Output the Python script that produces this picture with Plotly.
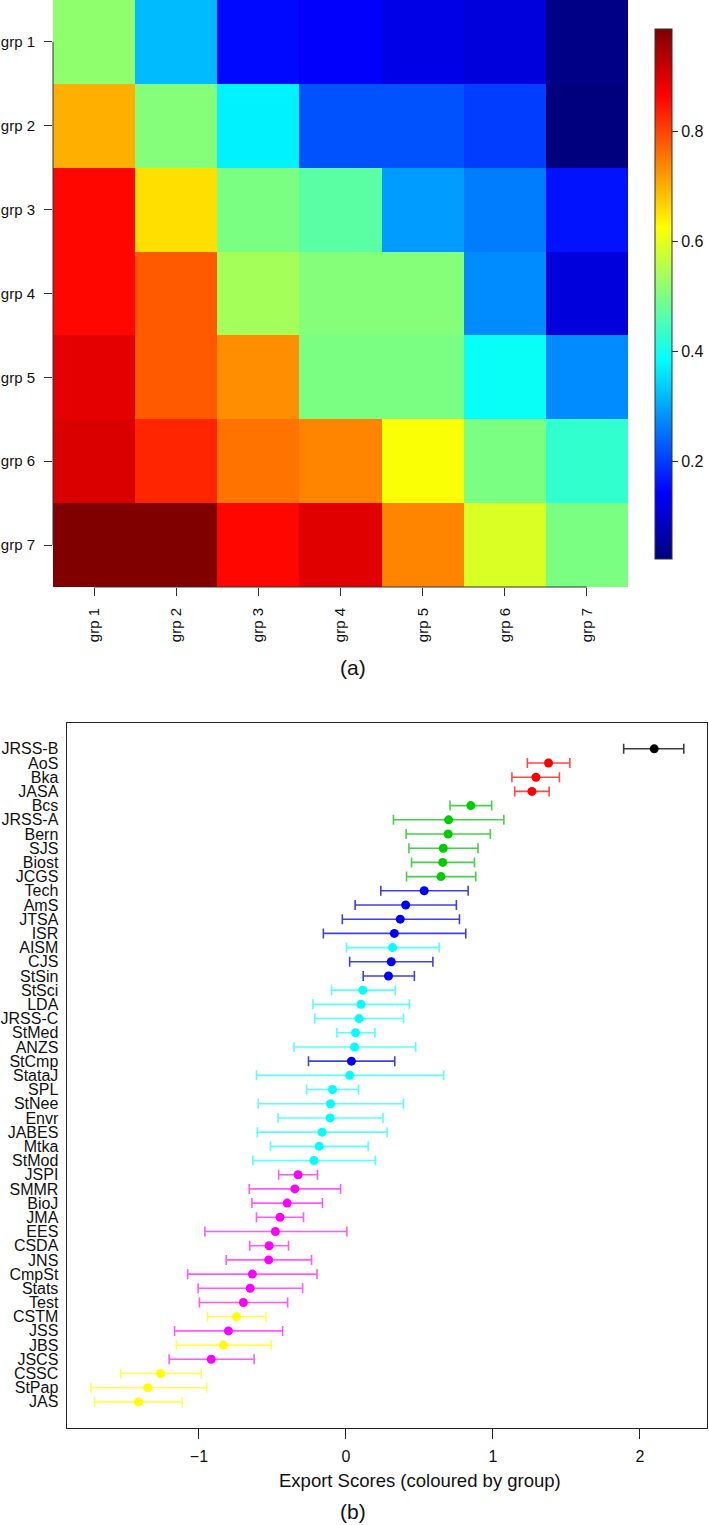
import plotly.graph_objects as go

# ---------------- (a) heatmap data ----------------
groups = ["grp 1", "grp 2", "grp 3", "grp 4", "grp 5", "grp 6", "grp 7"]
row_grp1 = [0.52, 0.32, 0.15, 0.14, 0.12, 0.11, 0.03]
row_grp2 = [0.70, 0.51, 0.37, 0.22, 0.22, 0.20, 0.02]
row_grp3 = [0.86, 0.655, 0.50, 0.47, 0.29, 0.26, 0.16]
row_grp4 = [0.86, 0.78, 0.54, 0.51, 0.51, 0.275, 0.11]
row_grp5 = [0.89, 0.78, 0.73, 0.50, 0.50, 0.39, 0.275]
row_grp6 = [0.90, 0.83, 0.755, 0.74, 0.62, 0.50, 0.43]
row_grp7 = [0.985, 0.985, 0.86, 0.895, 0.74, 0.59, 0.50]
cbar_ticks = [0.2, 0.4, 0.6, 0.8]

# ---------------- (b) export scores data ----------------
journals = ["JRSS-B", "AoS", "Bka", "JASA", "Bcs", "JRSS-A", "Bern", "SJS", "Biost", "JCGS",
            "Tech", "AmS", "JTSA", "ISR", "AISM", "CJS", "StSin", "StSci", "LDA", "JRSS-C",
            "StMed", "ANZS", "StCmp", "StataJ", "SPL", "StNee", "Envr", "JABES", "Mtka", "StMod",
            "JSPI", "SMMR", "BioJ", "JMA", "EES", "CSDA", "JNS", "CmpSt", "Stats", "Test",
            "CSTM", "JSS", "JBS", "JSCS", "CSSC", "StPap", "JAS"]
scores = [2.097, 1.378, 1.292, 1.265, 0.849, 0.698, 0.695, 0.662, 0.658, 0.646,
          0.532, 0.406, 0.369, 0.329, 0.317, 0.308, 0.289, 0.114, 0.102, 0.089,
          0.065, 0.058, 0.037, 0.025, -0.092, -0.105, -0.108, -0.163, -0.182, -0.218,
          -0.326, -0.348, -0.400, -0.449, -0.480, -0.523, -0.526, -0.637, -0.652, -0.698,
          -0.745, -0.800, -0.834, -0.917, -1.262, -1.348, -1.412]
lower = [1.889, 1.234, 1.129, 1.148, 0.708, 0.323, 0.409, 0.428, 0.446, 0.412,
         0.237, 0.062, -0.025, -0.154, 0.003, 0.025, 0.117, -0.098, -0.225, -0.212,
         -0.062, -0.354, -0.255, -0.609, -0.268, -0.597, -0.462, -0.603, -0.514, -0.634,
         -0.458, -0.658, -0.640, -0.609, -0.960, -0.655, -0.815, -1.077, -1.006, -0.997,
         -0.942, -1.166, -1.154, -1.203, -1.532, -1.735, -1.711]
upper = [2.298, 1.523, 1.452, 1.382, 0.991, 1.074, 0.982, 0.898, 0.874, 0.883,
         0.831, 0.751, 0.772, 0.815, 0.634, 0.591, 0.465, 0.335, 0.431, 0.391,
         0.197, 0.474, 0.332, 0.665, 0.086, 0.391, 0.252, 0.280, 0.151, 0.200,
         -0.194, -0.037, -0.160, -0.289, 0.006, -0.391, -0.234, -0.197, -0.295, -0.397,
         -0.545, -0.431, -0.508, -0.625, -0.985, -0.948, -1.114]
group = [1, 2, 2, 2, 3, 3, 3, 3, 3, 3,
         4, 4, 4, 4, 5, 4, 4, 5, 5, 5,
         5, 5, 4, 5, 5, 5, 5, 5, 5, 5,
         6, 6, 6, 6, 6, 6, 6, 6, 6, 6,
         7, 6, 7, 6, 7, 7, 7]
x_ticks = [-1, 0, 1, 2]

# ---------------- styles ----------------
FONT = "Liberation Sans, Arial, Helvetica, sans-serif"
W, H = 709, 1525
jet = ["#00007F", "#0000FF", "#007FFF", "#00FFFF", "#7FFF7F",
       "#FFFF00", "#FF7F00", "#FF0000", "#7F0000"]
colorscale = [[i / (len(jet) - 1), c] for i, c in enumerate(jet)]
point_col = {1: "#000000", 2: "#FF0000", 3: "#00CD00", 4: "#0000FF",
             5: "#00FFFF", 6: "#FF00FF", 7: "#FFFF00"}
bar_col = {1: "rgba(40,40,40,0.9)", 2: "rgba(255,40,40,0.85)", 3: "rgba(40,200,40,0.85)",
           4: "rgba(30,30,230,0.85)", 5: "rgba(60,255,255,0.85)", 6: "rgba(255,60,255,0.85)",
           7: "rgba(255,255,60,0.9)"}

def px_x(p):
    return p / W

def px_y(p):
    return 1 - p / H

fig = go.Figure()

z = [row_grp1, row_grp2, row_grp3, row_grp4, row_grp5, row_grp6, row_grp7]
fig.add_trace(go.Heatmap(
    z=z, x=groups, y=groups, colorscale=colorscale, zmin=0.022, zmax=0.986,
    xaxis="x", yaxis="y", hoverinfo="skip",
    colorbar=dict(x=px_x(655), xanchor="left", thickness=17, thicknessmode="pixels",
                  len=530, lenmode="pixels", y=px_y(294), yanchor="middle",
                  tickvals=cbar_ticks, ticktext=[f"{v:.1f}" for v in cbar_ticks],
                  ticks="outside", ticklen=6, tickcolor="#333", outlinewidth=1,
                  outlinecolor="#333", tickfont=dict(family=FONT, size=16, color="#111"),
                  xpad=0, ypad=0),
))

for g in sorted(point_col):
    idx = [i for i, gg in enumerate(group) if gg == g]
    xs = [scores[i] for i in idx]
    fig.add_trace(go.Scatter(
        x=xs, y=[journals[i] for i in idx], mode="markers",
        xaxis="x2", yaxis="y2", showlegend=False, hoverinfo="skip",
        marker=dict(color=point_col[g], size=9, line=dict(width=0)),
        error_x=dict(type="data", symmetric=False,
                     array=[upper[i] - scores[i] for i in idx],
                     arrayminus=[scores[i] - lower[i] for i in idx],
                     color=bar_col[g], thickness=1.6, width=5),
    ))

fig.update_layout(
    width=W, height=H, margin=dict(l=0, r=0, t=0, b=0),
    paper_bgcolor="white", plot_bgcolor="white", showlegend=False,
    font=dict(family=FONT, size=15, color="#111"),
    xaxis=dict(domain=[px_x(53), px_x(628)], type="category", categoryorder="array",
               categoryarray=groups, showgrid=False, zeroline=False, ticks="outside",
               ticklen=8, tickcolor="#333", tickangle=-90, ticklabelstandoff=6,
               tickfont=dict(size=15), anchor="y", fixedrange=True),
    yaxis=dict(domain=[px_y(587), 1.0], type="category", categoryorder="array",
               categoryarray=groups, autorange="reversed", showgrid=False, zeroline=False,
               ticks="outside", ticklen=8, tickcolor="#333", ticklabelstandoff=6,
               tickfont=dict(size=15), anchor="x", fixedrange=True),
    xaxis2=dict(domain=[px_x(66.7), px_x(707)], range=[-1.90, 2.456], tickvals=x_ticks,
                showgrid=False, zeroline=False, showline=True, mirror=True,
                linecolor="#222", linewidth=1.3, ticks="outside", ticklen=10,
                tickcolor="#222", tickwidth=1.3, tickfont=dict(size=16), anchor="y2",
                ticklabelstandoff=4, fixedrange=True),
    yaxis2=dict(domain=[px_y(1428), px_y(722.7)], type="category", categoryorder="array",
                categoryarray=journals, range=[len(journals) - 1 + 1.84, -1.84],
                tickmode="array", tickvals=journals, ticktext=journals,
                showgrid=False, zeroline=False, showline=True, mirror=True,
                linecolor="#222", linewidth=1.3, ticks="", tickfont=dict(size=16),
                ticklabelstandoff=4, anchor="x2", fixedrange=True),
)

# axis lines of the heatmap (between first and last tick, R style)
fig.add_shape(type="line", xref="x", yref="y domain", x0=0, x1=len(groups) - 1, y0=0, y1=0,
              line=dict(color="#333", width=1))
fig.add_shape(type="line", xref="x domain", yref="y", x0=0, x1=0, y0=0, y1=len(groups) - 1,
              line=dict(color="#333", width=1))

fig.add_annotation(text="Export Scores (coloured by group)", xref="paper", yref="paper",
                   x=px_x(420), y=px_y(1480), showarrow=False, font=dict(size=18.5),
                   xanchor="center", yanchor="middle")
fig.add_annotation(text="(a)", xref="paper", yref="paper", x=px_x(353), y=px_y(667),
                   showarrow=False, font=dict(size=21), xanchor="center", yanchor="middle")
fig.add_annotation(text="(b)", xref="paper", yref="paper", x=px_x(353), y=px_y(1511),
                   showarrow=False, font=dict(size=21), xanchor="center", yanchor="middle")

fig.write_html("out.html", config={"displayModeBar": False},
               post_script="document.body.style.margin='0';document.body.style.overflow='hidden';")
